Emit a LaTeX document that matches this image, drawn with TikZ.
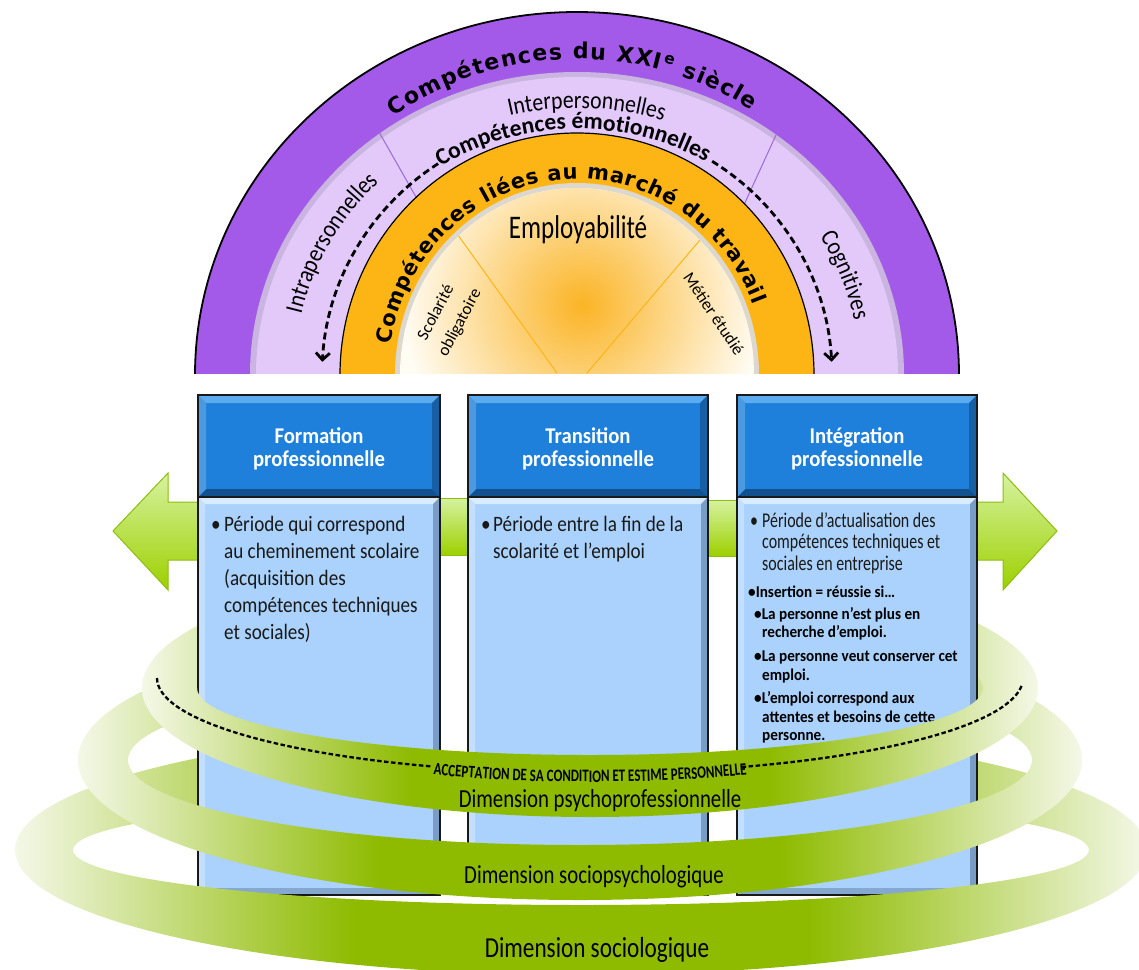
\documentclass[tikz,border=0pt]{standalone}
\usepackage{fontspec}
\setmainfont{Carlito}
\newfontfamily\fCondA[FakeStretch=0.87]{Carlito}
\newfontfamily\fCondB[FakeStretch=0.76]{Carlito}
\newfontfamily\fCb[FakeStretch=0.92]{Carlito}
\newfontfamily\fXcb[FakeStretch=0.74]{Carlito}
\newfontfamily\fDim[FakeStretch=0.8]{Carlito}
\newfontfamily\fTitle{DejaVu Sans}
\usetikzlibrary{calc,decorations.text,arrows.meta}

\definecolor{purp}{HTML}{A45AE8}
\definecolor{lilac}{HTML}{E2C9FA}
\definecolor{lilacrim}{HTML}{C9B5DF}
\definecolor{orng}{HTML}{FDB515}
\definecolor{cream}{HTML}{FFFCF4}
\definecolor{creamrim}{HTML}{DCD8D0}
\definecolor{glow}{HTML}{FBB425}
\definecolor{divline}{HTML}{9A6AD8}
\definecolor{hblue}{HTML}{1E80DA}
\definecolor{hlight}{HTML}{5CAAF0}
\definecolor{hdark}{HTML}{12518F}
\definecolor{bblue}{HTML}{AAD2FC}
\definecolor{blight}{HTML}{D8ECFF}
\definecolor{bdark}{HTML}{7A9DC5}
\definecolor{gtop}{HTML}{D6F2A0}
\definecolor{gbot}{HTML}{9DD000}
\definecolor{gedge}{HTML}{8CBE10}
\definecolor{rgreen}{HTML}{8EBB00}
\definecolor{rlight}{HTML}{F4F8E8}
\colorlet{rmid}{rgreen!40!rlight}

\pgfdeclarehorizontalshading{ringsh}{100bp}{color(0bp)=(rlight); color(25bp)=(rlight); color(31bp)=(rmid); color(40bp)=(rgreen); color(60bp)=(rgreen); color(69bp)=(rmid); color(75bp)=(rlight); color(100bp)=(rlight)}

\newcommand{\ringpart}[6]{%
  \shade[shading=ringsh] ($(#1)+(-#2pt,0)$) arc[start angle=180,end angle=#6,x radius=#2pt,y radius=#3pt]
    -- ($(#1)+(#4pt,0)$) arc[start angle=0,end angle={180-#6},x radius=#4pt,y radius=#5pt] -- cycle;}

\newcommand{\mkbox}[2]{%
  \fill[bblue] (#1,497) rectangle (#2,895);
  \fill[blight] (#1,497) -- (#2,497) -- ({#2-7},504) -- ({#1+7},504) -- cycle;
  \fill[bdark] (#2,497) -- (#2,895) -- ({#2-7},888) -- ({#2-7},504) -- cycle;
  \fill[bdark!80!bblue] (#1,895) -- (#2,895) -- ({#2-7},888) -- ({#1+7},888) -- cycle;
  \fill[bblue!70!white] (#1,497) -- ({#1+7},504) -- ({#1+7},888) -- (#1,895) -- cycle;
  \draw[boxline] (#1,497) rectangle (#2,895);
  \fill[hblue] (#1,395) rectangle (#2,497);
  \fill[hlight] (#1,395) -- (#2,395) -- ({#2-8},403) -- ({#1+8},403) -- cycle;
  \fill[hdark] (#1,497) -- (#2,497) -- ({#2-8},489) -- ({#1+8},489) -- cycle;
  \fill[hdark!70!hblue] (#2,395) -- (#2,497) -- ({#2-8},489) -- ({#2-8},403) -- cycle;
  \fill[hblue!80!white] (#1,395) -- ({#1+8},403) -- ({#1+8},489) -- (#1,497) -- cycle;
  \draw[boxline] (#1,395) rectangle (#2,497);
}

\begin{document}
\begin{tikzpicture}[x=1pt,y=-1pt,
  boxline/.style={draw=black!90,line width=1.4pt},
  hdtext/.style={text=white,font=\fCb\bfseries\fontsize{22.5}{24}\selectfont,anchor=base,inner sep=0pt},
  bodytext/.style={anchor=base west,inner sep=0pt,text=black!90,font=\fCondA\fontsize{22}{22}\selectfont},
  smalltext/.style={anchor=base west,inner sep=0pt,text=black!90,font=\fCondB\fontsize{21}{21}\selectfont},
  boldtext/.style={anchor=base west,inner sep=0pt,text=black,font=\fCb\bfseries\fontsize{16.5}{16.5}\selectfont},
  dimtext/.style={anchor=base,inner sep=0pt,text=black,font=\fDim\fontsize{26}{26}\selectfont},
  arrowshape/.style={top color=gtop,bottom color=gbot,draw=gedge,line width=1pt},
  lilacdash/.style={draw=black,line width=2.8pt,dash pattern=on 7pt off 4pt},
  ringdash/.style={draw=black,line width=2.3pt,dash pattern=on 4.5pt off 2.5pt},
  arctext/.style={text=black,inner sep=0pt}
]
\useasboundingbox (0,0) rectangle (1139,969);
\fill[white] (0,0) rectangle (1139,969);
\coordinate (C) at (577,375);
\coordinate (R1) at (590,688);
\coordinate (R2) at (580,760);
\coordinate (R3) at (581,850);
\coordinate (D1) at (590,678);

% ---------- half disc ----------
\begin{scope}
  \clip (0,0) rectangle (1139,373);
  \fill[purp] (C) ellipse [x radius=382pt,y radius=363pt];
  \fill[lilacrim] (C) ellipse [x radius=327pt,y radius=303pt];
  \fill[lilac] (C) ellipse [x radius=321pt,y radius=298pt];
  \draw[divline,line width=1pt] (379,132) -- (420,204);
  \draw[divline,line width=1pt] (776,135) -- (743,207);
  \fill[orng] (C) ellipse [x radius=237pt,y radius=242pt];
  \draw[black,line width=1.2pt] (C) ellipse [x radius=237pt,y radius=242pt];
  \fill[creamrim] (C) ellipse [x radius=182pt,y radius=192pt];
  \fill[cream] (C) ellipse [x radius=177pt,y radius=187pt];
  \begin{scope}
    \clip (C) ellipse [x radius=177pt,y radius=187pt];
    \shade[inner color=glow,outer color=cream] (582,305) circle [radius=180pt];
    \draw[orng,line width=1pt] (445,217) -- (557,373);
    \draw[orng,line width=1pt] (722,214) -- (587,373);
  \end{scope}
  \draw[black,line width=1.8pt] (C) ellipse [x radius=382pt,y radius=363pt];

  % texts on arcs
  \path[decorate,decoration={text along path,text align={fit to path},text color=black,
    text={|\fTitle\bfseries\fontsize{22}{22}\selectfont|Compétences du XXI{\textsuperscript{e}} siècle}}]
    ($(C)+(125:320pt and 316pt)$) arc [start angle=125,end angle=57,x radius=320pt,y radius=316pt];
  \path[decorate,decoration={text along path,text align=center,text color=black,
    text={|\fCondA\fontsize{25}{25}\selectfont|Interpersonnelles}}]
    ($(C)+(130:285pt and 267pt)$) arc [start angle=130,end angle=46,x radius=285pt,y radius=267pt];
  \path[decorate,decoration={text along path,text align=center,text color=black,
    text={|\bfseries\fontsize{23.5}{23.5}\selectfont|Compétences émotionnelles}}]
    ($(C)+(150:258pt and 246pt)$) arc [start angle=150,end angle=32,x radius=258pt,y radius=246pt];
  \path[decorate,decoration={text along path,text align=center,text color=black,
    text={|\fCondA\fontsize{25}{25}\selectfont|Intrapersonnelles}}]
    ($(C)+(185:283pt and 270pt)$) arc [start angle=185,end angle=117,x radius=283pt,y radius=270pt];
  \path[decorate,decoration={text along path,text align=center,text color=black,
    text={|\fCondA\fontsize{25}{25}\selectfont|Cognitives}}]
    ($(C)+(55:283pt and 270pt)$) arc [start angle=55,end angle=-13,x radius=283pt,y radius=270pt];
  \path[decorate,decoration={text along path,text align={fit to path},text color=black,
    text={|\fTitle\bfseries\fontsize{21}{21}\selectfont|Compétences liées au marché du travail}}]
    ($(C)+(171:189pt and 196pt)$) arc [start angle=171,end angle=21,x radius=189pt,y radius=196pt];

  \node[arctext,font=\fCondB\fontsize{33}{33}\selectfont,anchor=base] (emp) at (578,238) {Employabilité};
  \node[arctext,font=\fontsize{17}{17}\selectfont,rotate=62] (sco) at (435,312) {Scolarité};
  \node[arctext,font=\fontsize{17}{17}\selectfont,rotate=62] (obl) at (460,323) {obligatoire};
  \node[arctext,font=\fontsize{17}{17}\selectfont,rotate=-56] (met) at (714,314) {Métier étudié};

  \draw[lilacdash,-{Straight Barb[length=7pt,width=14pt]}] ($(C)+(123:255pt and 252pt)$)
     arc [start angle=123,end angle=177,x radius=255pt,y radius=252pt];
  \draw[lilacdash,-{Straight Barb[length=7pt,width=14pt]}] ($(C)+(58:255pt and 252pt)$)
     arc [start angle=58,end angle=3,x radius=255pt,y radius=252pt];
\end{scope}

% ---------- green arrows and links ----------
\shade[arrowshape] (113,531) -- (168,473) -- (168,502) -- (205,502) -- (205,560) -- (168,560) -- (168,590) -- cycle;
\shade[arrowshape] (1057,531) -- (1003,473) -- (1003,502) -- (970,502) -- (970,560) -- (1003,560) -- (1003,590) -- cycle;
\shade[arrowshape] (436,498) rectangle (472,555);
\shade[arrowshape] (704,500) rectangle (741,556);

% ---------- back halves of rings ----------
\begin{scope}
  \clip (0,0) rectangle (198,969) (977,0) rectangle (1139,969);
  \ringpart{R3}{566}{125}{508}{55}{0}
  \ringpart{R2}{502}{140}{452}{85}{0}
  \ringpart{R1}{448}{129}{393}{67}{0}
\end{scope}

% ---------- boxes ----------
\mkbox{198}{440}
\mkbox{468}{708}
\mkbox{737}{977}

\node[hdtext] (h1a) at (319,443) {Formation};
\node[hdtext] (h1b) at (319,466) {professionnelle};
\node[hdtext] (h2a) at (588,443) {Transition};
\node[hdtext] (h2b) at (588,466) {professionnelle};
\node[hdtext] (h3a) at (857,443) {Intégration};
\node[hdtext] (h3b) at (857,466) {professionnelle};

\node[bodytext] (b1d) at (211,531) {•};
\node[bodytext] (b1a) at (224,531) {Période qui correspond};
\node[bodytext] (b1b) at (224,558) {au cheminement scolaire};
\node[bodytext] (b1c) at (224,585) {(acquisition des};
\node[bodytext] (b1e) at (224,612) {compétences techniques};
\node[bodytext] (b1f) at (224,639) {et sociales)};

\node[bodytext] (b2d) at (481,531) {•};
\node[bodytext] (b2a) at (493,531) {Période entre la fin de la};
\node[bodytext] (b2b) at (493,558) {scolarité et l’emploi};

\node[smalltext] (b3d) at (750,527) {•};
\node[smalltext] (b3a) at (762,527) {Période d’actualisation des};
\node[smalltext] (b3b) at (762,548.5) {compétences techniques et};
\node[smalltext] (b3c) at (762,570) {sociales en entreprise};
\node[boldtext] (b3e) at (748,597) {•Insertion = réussie si…};
\node[boldtext] (b3f) at (754,619) {•La personne n’est plus en};
\node[boldtext] (b3g) at (762,637) {recherche d’emploi.};
\node[boldtext] (b3h) at (754,661) {•La personne veut conserver cet};
\node[boldtext] (b3i) at (762,680) {emploi.};
\node[boldtext] (b3j) at (754,703) {•L’emploi correspond aux};
\node[boldtext] (b3k) at (762,722) {attentes et besoins de cette};
\node[boldtext] (b3l) at (762,740) {personne.};

% ---------- front halves of rings ----------
\ringpart{R3}{566}{125}{508}{55}{360}
\ringpart{R2}{502}{140}{452}{85}{360}
\ringpart{R1}{448}{129}{393}{67}{360}

\draw[ringdash] ($(D1)+(-433pt,0)$) arc [start angle=180,end angle=248.5,x radius=433pt,y radius=95pt];
\draw[ringdash] ($(D1)+(290.5:433pt and 95pt)$) arc [start angle=290.5,end angle=356,x radius=433pt,y radius=95pt];
\path[decorate,decoration={text along path,text align=center,text color=black,
  text={|\fXcb\bfseries\fontsize{17.5}{17.5}\selectfont|ACCEPTATION DE SA CONDITION ET ESTIME PERSONNELLE}}]
  ($(D1)+(244:433pt and 104pt)$) arc [start angle=244,end angle=296,x radius=433pt,y radius=104pt];

\node[dimtext] (d1) at (600,807) {Dimension psychoprofessionnelle};
\node[dimtext] (d2) at (594,883) {Dimension sociopsychologique};
\node[dimtext,font=\fDim\fontsize{29}{29}\selectfont] (d3) at (597,957) {Dimension sociologique};
\end{tikzpicture}
\end{document}
